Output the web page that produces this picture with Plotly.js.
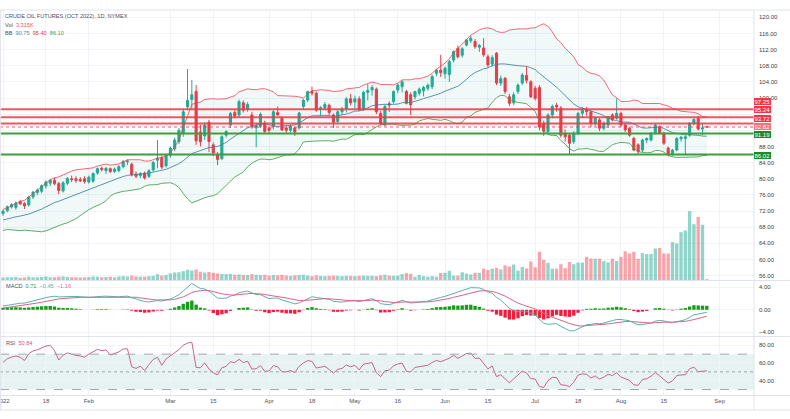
<!DOCTYPE html>
<html><head><meta charset="utf-8">
<script src="https://cdn.plot.ly/plotly-3.0.1.min.js"></script>
<style>html,body{margin:0;padding:0;background:#fff;}#chart{width:790px;height:419px;}</style>
</head><body><div id="chart"></div>
<script>
// ---------- DATA ----------
const openP = [
71.4,72.1,73.0,72.9,74.3,73.9,73.5,75.5,76.6,76.9,
78.2,78.9,79.6,78.8,77.0,78.9,80.0,80.0,79.8,80.0,
79.2,79.4,81.4,82.6,82.0,82.5,81.8,82.0,83.0,84.2,
83.6,81.2,80.8,81.4,80.6,82.2,84.6,85.2,83.2,85.8,
87.4,89.2,91.4,97.8,99.6,101.6,91.6,90.6,94.0,88.4,
85.9,85.0,90.8,93.3,96.4,95.8,98.8,97.2,95.8,92.6,
93.0,93.8,92.6,92.9,96.4,95.0,92.6,92.0,92.6,92.6,
97.9,99.5,101.6,101.2,97.2,97.6,98.2,95.8,94.2,96.6,
97.4,99.8,99.0,99.8,97.4,101.4,102.0,102.2,96.2,93.3,
98.6,99.1,102.0,102.8,101.6,100.8,100.3,101.2,101.8,102.4,
102.8,106.1,106.9,106.0,105.8,109.4,112.3,110.6,113.1,114.2,
114.0,112.6,112.4,110.2,108.4,111.1,103.7,104.9,100.3,98.8,
101.6,103.7,105.6,104.0,102.4,102.6,93.6,91.7,95.8,98.2,
97.5,91.3,90.8,89.2,91.3,96.2,97.0,96.6,93.7,94.6,
92.5,93.3,95.8,95.0,96.2,93.3,92.5,90.0,88.4,87.1,
89.6,89.6,91.3,92.9,91.3,87.6,86.1,87.1,89.9,90.0,
90.8,93.7,95.0,92.3,92.9];
const highP = [
72.3,73.4,74.0,74.4,74.8,74.2,75.8,77.0,77.6,78.6,
79.6,80.0,80.2,79.2,79.4,80.4,80.8,80.6,80.4,80.6,
80.8,81.6,82.8,83.0,82.9,82.8,82.8,83.4,84.6,84.8,
84.0,81.8,81.6,81.8,82.4,84.4,89.6,85.8,86.2,88.0,
90.2,92.6,97.2,107.2,104.5,103.2,93.4,94.0,94.6,89.0,
86.6,90.8,92.0,96.6,97.0,99.6,99.4,99.0,96.6,93.8,
96.4,94.4,93.0,97.0,97.9,95.4,93.2,93.4,92.8,96.6,
99.8,101.8,102.8,101.6,98.0,99.0,98.6,96.2,97.0,97.8,
100.2,101.0,100.6,100.4,101.8,103.4,103.2,102.6,96.8,98.4,
99.2,101.9,103.6,104.4,102.0,101.4,101.8,102.6,103.0,103.6,
105.8,107.2,110.7,107.8,109.4,111.8,113.0,112.6,114.6,115.4,
114.6,113.4,114.8,110.8,110.6,111.4,105.6,105.2,101.0,101.4,
103.6,106.2,107.8,104.4,103.0,103.2,94.4,96.2,98.4,98.8,
98.0,92.2,91.2,91.8,96.6,97.8,97.8,96.9,95.4,95.0,
94.2,95.6,96.2,99.9,96.6,93.8,92.8,90.4,88.8,89.9,
90.2,91.6,93.6,93.2,91.6,88.0,87.4,90.3,90.6,90.8,
94.0,95.0,95.6,93.8,93.0];
const lowP = [
70.8,71.7,72.6,72.3,73.5,72.5,73.1,75.0,76.0,76.4,
77.6,78.2,78.4,76.2,76.6,78.4,79.2,79.0,79.2,78.8,
78.8,79.0,81.0,81.8,81.2,81.4,81.4,81.6,82.6,83.4,
80.6,80.2,80.2,79.8,80.2,81.8,82.6,82.4,82.8,85.2,
86.8,88.6,90.4,97.0,97.4,88.4,88.0,89.6,86.6,85.6,
83.4,84.6,90.2,92.6,95.0,95.2,96.4,96.6,92.4,87.8,
92.6,91.4,91.4,92.2,95.6,91.8,91.2,91.4,90.6,92.2,
97.2,99.0,100.6,96.6,95.6,97.0,95.8,92.6,93.6,95.8,
96.4,98.2,97.4,96.8,96.8,99.4,100.6,96.0,93.2,93.0,
96.6,98.6,101.2,101.4,98.4,95.8,99.6,100.6,100.4,101.8,
102.2,105.4,105.2,104.8,104.0,108.8,109.8,110.0,112.8,113.6,
112.2,111.4,110.2,107.6,107.8,103.2,103.0,101.0,98.0,98.2,
101.0,103.2,103.6,100.0,99.4,92.0,90.6,91.2,95.0,96.6,
90.2,89.2,85.9,88.6,90.8,95.0,95.6,92.8,93.0,91.8,
92.0,92.6,94.2,94.6,92.8,91.6,90.4,86.8,86.2,86.6,
88.8,89.2,91.0,91.0,88.4,85.5,85.6,86.8,89.2,85.9,
90.4,93.2,92.0,90.8,92.6];
const closeP = [
72.0,73.1,73.6,74.0,73.8,73.3,75.5,76.7,77.2,78.3,
79.2,79.6,78.8,77.1,79.0,80.1,79.8,79.6,79.5,79.3,
80.4,81.3,82.5,82.3,82.6,81.8,82.4,83.0,84.3,84.4,
81.0,80.6,81.3,80.2,82.0,84.0,85.0,82.9,85.8,87.6,
89.6,92.0,96.6,99.4,100.8,89.4,89.2,93.3,89.2,86.4,
84.8,90.4,91.7,96.2,95.6,99.1,97.0,98.4,92.9,93.2,
96.0,91.7,92.0,96.6,95.8,92.1,92.0,93.0,91.6,96.3,
99.4,101.6,101.2,97.0,97.6,98.4,96.4,94.0,96.6,97.2,
99.8,98.8,99.8,97.2,101.4,101.9,102.6,96.6,93.7,97.9,
98.2,101.6,103.2,104.0,98.7,98.3,101.6,102.2,102.6,103.2,
105.3,106.9,106.3,107.4,109.0,111.5,110.2,112.2,114.4,114.8,
112.7,113.0,110.7,108.2,110.0,103.7,104.8,101.6,98.7,100.8,
103.2,105.7,104.4,100.3,99.9,92.8,91.8,95.8,97.9,97.8,
90.8,90.4,88.8,91.3,96.2,97.0,96.6,93.7,95.0,92.5,
93.7,95.4,94.6,96.2,93.3,92.1,90.8,87.1,86.7,89.6,
90.0,91.3,93.3,91.3,88.8,86.1,87.1,90.0,90.3,90.4,
93.7,94.7,92.3,92.6,92.82];
const volumeK = [
9,10,10,11,8,9,12,10,10,11,13,10,10,12,13,11,10,10,9,10,
11,13,12,10,11,12,10,13,14,13,16,13,12,12,14,15,21,16,18,
24,27,28,32,37,34,38,30,27,29,26,24,22,21,22,19,20,18,18,21,19,18,19,
16,18,17,19,16,15,17,18,19,16,14,17,15,14,15,16,15,14,15,15,14,15,16,15,15,14,17,19,16,15,16,
21,25,22,12,18,14,12,14,12,25,26,33,16,16,28,23,20,26,26,41,36,41,44,38,53,49,56,34,47,42,67,
46,102,73,62,41,41,57,43,65,57,63,63,84,78,77,77,68,64,77,69,
84,104,96,102,77,97,94,94,114,116,96,96,137,132,173,179,249,202,228,200,3.315];
// closes before the first visible bar (indicator warm-up)
const warmupCloses = [
71.5,72.2,71.0,70.2,71.4,71.8,72.4,71.6,70.8,70.0,69.4,69.8,68.6,68.9,69.6,66.4,66.9,64.6,65.0,64.8,
66.4,67.0,68.8,69.4,69.8,69.2,69.6,69.0,69.7,69.2,68.0,67.8,69.4,70.3,70.6,71.2,70.8,71.5,71.0,71.6];
const redLevels = [97.25, 95.24, 93.72];
const greenLevels = [91.19, 86.02];
const priceTicks = [56,60,64,68,72,76,80,84,88,92,96,100,104,108,112,116,120];
const hiddenPriceTicks = [92,96]; // fully covered by the level labels in the reference
const tickDates = ['2022-01-03','2022-01-18','2022-02-01','2022-03-01','2022-03-15','2022-04-01','2022-04-18','2022-05-02','2022-05-16','2022-06-01','2022-06-15','2022-07-01','2022-07-18','2022-08-01','2022-08-15','2022-09-01'];
const tickLabels = ['2022','18','Feb','Mar','15','Apr','18','May','16','Jun','15','Jul','18','Aug','15','Sep'];
const holidays = ['2022-01-17','2022-02-21','2022-04-15','2022-05-30','2022-06-20','2022-07-04','2022-09-05'];
const titleText = 'CRUDE OIL FUTURES (OCT 2022), 1D, NYMEX';
const volLegend = '3.315K';
const bbLegend = ['90.75','95.40','86.10'];
const macdLegend = ['0.71','\u22120.45','\u22121.16'];
const rsiLegend = '50.84';

// ---------- helpers ----------
function tradingDays(start, end, hol){
  const out=[]; const d=new Date(start+'T00:00:00Z'); const e=new Date(end+'T00:00:00Z');
  while(d<=e){ const wd=d.getUTCDay(); const s=d.toISOString().slice(0,10);
    if(wd!==0&&wd!==6&&!hol.includes(s)) out.push(s); d.setUTCDate(d.getUTCDate()+1);} return out;
}
const days = tradingDays('2022-01-03','2022-09-30',holidays);
const N = closeP.length;
const xs = closeP.map((_,i)=>i);
const tickvals = tickDates.map(t=>days.indexOf(t));

const allC = warmupCloses.concat(closeP);
const W = warmupCloses.length;
// Bollinger (20,2)
const bbMid=[],bbUp=[],bbLo=[];
for(let i=0;i<N;i++){const j=i+W; const w=allC.slice(j-19,j+1); const m=w.reduce((a,b)=>a+b,0)/20;
  const sd=Math.sqrt(w.reduce((a,b)=>a+(b-m)*(b-m),0)/20); bbMid.push(m); bbUp.push(m+2*sd); bbLo.push(m-2*sd);}
function ema(a,n){const k=2/(n+1); const o=[a[0]]; for(let i=1;i<a.length;i++) o.push(a[i]*k+o[i-1]*(1-k)); return o;}
const e12=ema(allC,12), e26=ema(allC,26);
const macdAll=e12.map((v,i)=>v-e26[i]); const sigAll=ema(macdAll,9);
const macd=macdAll.slice(W), sig=sigAll.slice(W), hist=macd.map((v,i)=>v-sig[i]);
// RSI 14 (Wilder)
const rsiAll=[]; let ag=0, al=0;
for(let i=1;i<allC.length;i++){const ch=allC[i]-allC[i-1]; const g=Math.max(ch,0), l=Math.max(-ch,0);
  if(i<=14){ag+=g/14; al+=l/14;} else {ag=(ag*13+g)/14; al=(al*13+l)/14;}
  rsiAll[i]= al===0?100:100-100/(1+ag/al);}
const rsi=rsiAll.slice(W);

// ---------- geometry ----------
const H=419, Wd=790;
const xEnd = 754/Wd;
const pY = px => 1-px/H;
const mainDom=[pY(280),pY(10)], macdDom=[pY(336),pY(281)], rsiDom=[pY(395),pY(337)];
const priceRange=[54.93,121.8];
const UP='#22ab94', DN='#f23645';
const font='Liberation Sans, Arial, sans-serif';
const volMax=Math.max(...volumeK);

const traces=[
 {type:'bar',x:xs,y:volumeK,xaxis:'x',yaxis:'y',marker:{color:closeP.map((c,i)=>c>=openP[i]?'rgba(34,171,148,0.5)':'rgba(242,54,69,0.45)'),line:{width:0}},hoverinfo:'skip'},
 {type:'scatter',mode:'lines',x:xs,y:bbUp,xaxis:'x',yaxis:'y2',line:{color:'rgba(242,54,69,0.75)',width:1},hoverinfo:'skip'},
 {type:'scatter',mode:'lines',x:xs,y:bbLo,xaxis:'x',yaxis:'y2',line:{color:'rgba(67,160,71,0.85)',width:1},fill:'tonexty',fillcolor:'rgba(38,166,154,0.07)',hoverinfo:'skip'},
 {type:'scatter',mode:'lines',x:xs,y:bbMid,xaxis:'x',yaxis:'y2',line:{color:'rgba(60,130,160,0.85)',width:1},hoverinfo:'skip'},
 {type:'candlestick',x:xs,open:openP,high:highP,low:lowP,close:closeP,xaxis:'x',yaxis:'y2',whiskerwidth:0,
  increasing:{line:{color:UP,width:1},fillcolor:UP},decreasing:{line:{color:DN,width:1},fillcolor:DN},hoverinfo:'skip'},
 {type:'bar',x:xs,y:hist,xaxis:'x',yaxis:'y3',marker:{color:hist.map(v=>v>=0?'#1a9a1a':'#f01e3c'),line:{width:0}},hoverinfo:'skip'},
 {type:'scatter',mode:'lines',x:xs,y:macd,xaxis:'x',yaxis:'y3',line:{color:'#56b4ac',width:1},hoverinfo:'skip'},
 {type:'scatter',mode:'lines',x:xs,y:sig,xaxis:'x',yaxis:'y3',line:{color:'#d9648a',width:1},hoverinfo:'skip'},
 {type:'scatter',mode:'lines',x:xs,y:rsi,xaxis:'x',yaxis:'y4',line:{color:'#c8648a',width:1},hoverinfo:'skip'}
];

const gridC='#f0f3fa';
const tickF={family:font,size:6,color:'#3a3e4a'};
const yCommon={side:'right',anchor:'x',showline:false,zeroline:false,ticks:'',tickfont:tickF,gridcolor:gridC,gridwidth:1,fixedrange:true,ticklabelstandoff:4};

const shapes=[];
const lineShape=(y,color,width,dash)=>({type:'line',xref:'paper',x0:0,x1:xEnd,yref:'y2',y0:y,y1:y,line:{color,width,dash:dash||'solid'}});
redLevels.forEach(v=>shapes.push(lineShape(v,'rgba(242,54,69,0.85)',2)));
greenLevels.forEach(v=>shapes.push(lineShape(v,'#3f9c3f',2)));
const last=closeP[N-1];
shapes.push(lineShape(last,'rgba(242,54,69,0.8)',1,'dot'));
// RSI band and levels
shapes.push({type:'rect',xref:'paper',x0:0,x1:xEnd,yref:'y4',y0:30,y1:70,fillcolor:'rgba(38,140,150,0.11)',line:{width:0},layer:'below'});
[[70,'dash'],[50,'dot'],[30,'dash']].forEach(([v,d])=>shapes.push({type:'line',xref:'paper',x0:0,x1:xEnd,yref:'y4',y0:v,y1:v,line:{color:'#a3a6af',width:1,dash:d}}));
// frame / separators
const sep=(px)=>({type:'line',xref:'paper',x0:0,x1:1,yref:'paper',y0:pY(px),y1:pY(px),line:{color:'#e0e3eb',width:1}});
[10,280.5,336.5,395.5,410].forEach(p=>shapes.push(sep(p)));
shapes.push({type:'line',xref:'paper',x0:xEnd,x1:xEnd,yref:'paper',y0:pY(410),y1:pY(10),line:{color:'#e0e3eb',width:1}});
shapes.push({type:'line',xref:'paper',x0:0.0008,x1:0.0008,yref:'paper',y0:pY(410),y1:pY(10),line:{color:'#e0e3eb',width:1}});

// right-axis price labels, stacked upward so they do not overlap
const ppu=(mainDom[1]-mainDom[0])*H/(priceRange[1]-priceRange[0]);
const labs=[...redLevels.map(v=>({v,c:'#f23645'})),{v:last,c:'#f7707c'},...greenLevels.map(v=>({v,c:'#1f8a2a'}))].sort((a,b)=>a.v-b.v);
labs.forEach(l=>{l.p=l.v*ppu;});
const gap=8.2;
for(let k=1;k<labs.length;k++){ if(labs[k].p-labs[k-1].p<gap) labs[k].p=labs[k-1].p+gap; }
const annotations=labs.map(l=>({xref:'paper',x:xEnd,xanchor:'left',yref:'y2',y:l.v,yanchor:'middle',yshift:l.p-l.v*ppu-1,
  text:l.v.toFixed(2),showarrow:false,bgcolor:l.c,font:{family:font,size:6,color:'#ffffff'},borderpad:0.5,borderwidth:0}));

const leg=(px,py,html)=>({xref:'paper',yref:'paper',x:px/Wd,y:pY(py),xanchor:'left',yanchor:'middle',showarrow:false,text:html,font:{family:font,size:5.6,color:'#50535e'}});
annotations.push(leg(3,16,titleText));
annotations.push(leg(3,24.5,'Vol  <span style="color:#f7525f">'+volLegend+'</span>'));
annotations.push(leg(3,33,'BB  <span style="color:#3f8fb0">'+bbLegend[0]+'</span>  <span style="color:#f23645">'+bbLegend[1]+'</span>  <span style="color:#43a047">'+bbLegend[2]+'</span>'));
annotations.push(leg(4,286,'MACD  <span style="color:#2e9e3e">'+macdLegend[0]+'</span>  <span style="color:#4fb3aa">'+macdLegend[1]+'</span>  <span style="color:#e06a90">'+macdLegend[2]+'</span>'));
annotations.push(leg(4,343,'RSI  <span style="color:#d4567a">'+rsiLegend+'</span>'));

const layout={
 width:Wd,height:H,margin:{l:0,r:0,t:0,b:0},paper_bgcolor:'#ffffff',plot_bgcolor:'rgba(0,0,0,0)',
 showlegend:false,bargap:0.22,hovermode:false,
 xaxis:{domain:[0,xEnd],range:[-0.7,175],type:'linear',anchor:'y4',tickmode:'array',tickvals,ticktext:tickLabels,
   showgrid:true,gridcolor:gridC,zeroline:false,showline:false,ticks:'',tickfont:{family:font,size:6,color:'#50535e'},fixedrange:true,rangeslider:{visible:false},ticklabelstandoff:1,ticklabeloverflow:'allow'},
 yaxis:{domain:mainDom,range:[0,volMax/0.255],visible:false,showgrid:false,fixedrange:true,anchor:'x'},
 yaxis2:Object.assign({},yCommon,{overlaying:'y',range:priceRange,tickmode:'array',tickvals:priceTicks,
   ticktext:priceTicks.map(v=>hiddenPriceTicks.includes(v)?'':v.toFixed(2))}),
 yaxis3:Object.assign({},yCommon,{domain:macdDom,range:[-4.66,5.12],tickmode:'array',tickvals:[-4,0,4],ticktext:['\u22124.00','0.00','4.00']}),
 yaxis4:Object.assign({},yCommon,{domain:rsiDom,range:[23.8,89.4],tickmode:'array',tickvals:[40,60,80],ticktext:['40.00','60.00','80.00']}),
 shapes,annotations
};
Plotly.newPlot('chart',traces,layout,{displayModeBar:false,staticPlot:true});
</script></body></html>
